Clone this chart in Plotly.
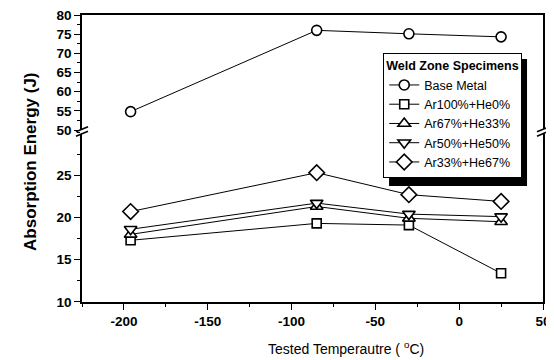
import plotly.graph_objects as go

# ---- data ----
temps = [-196, -85, -30, 25]
base_metal = [54.8, 76.0, 75.1, 74.3]
ar100_he0 = [17.3, 19.3, 19.1, 13.4]
ar67_he33 = [18.0, 21.3, 19.9, 19.5]
ar50_he50 = [18.6, 21.7, 20.4, 20.1]
ar33_he67 = [20.7, 25.3, 22.7, 21.9]

x_ticks = [-200, -150, -100, -50, 0, 50]
x_tick_text = ["<b>-200</b>", "<b>-150</b>", "<b>-100</b>", "<b>-50</b>", "<b>0</b>", "<b>50</b>"]
y_low_ticks = [10, 15, 20, 25]
y_high_ticks = [50, 55, 60, 65, 70, 75, 80]

FONT = "Liberation Sans, Arial, sans-serif"

fig = go.Figure()

def mk(sym, size):
    return dict(symbol=sym, size=size, color="white", line=dict(color="black", width=1.6))

fig.add_trace(go.Scatter(x=temps, y=base_metal, name="Base Metal", mode="lines+markers",
                         xaxis="x2", yaxis="y2",
                         line=dict(color="black", width=1), marker=mk("circle", 10)))
fig.add_trace(go.Scatter(x=temps, y=ar100_he0, name="Ar100%+He0%", mode="lines+markers",
                         line=dict(color="black", width=1), marker=mk("square", 9)))
fig.add_trace(go.Scatter(x=temps, y=ar67_he33, name="Ar67%+He33%", mode="lines+markers",
                         line=dict(color="black", width=1), marker=mk("triangle-up", 11)))
fig.add_trace(go.Scatter(x=temps, y=ar50_he50, name="Ar50%+He50%", mode="lines+markers",
                         line=dict(color="black", width=1), marker=mk("triangle-down", 11)))
fig.add_trace(go.Scatter(x=temps, y=ar33_he67, name="Ar33%+He67%", mode="lines+markers",
                         line=dict(color="black", width=1), marker=mk("diamond", 12)))

axis_common = dict(showgrid=False, zeroline=False, showline=True, linecolor="black", linewidth=1.5,
                   ticks="outside", ticklen=6, tickwidth=1.3, tickcolor="black",
                   ticklabeloverflow="allow", automargin=False,
                   tickfont=dict(family=FONT, size=13.5, color="black"))

low_dom = [0.0, 0.589]
high_dom = [0.599, 1.0]

LEG_X, LEG_Y = 0.653, 0.868

fig.update_layout(
    width=554, height=360,
    margin=dict(l=74, r=19, t=7, b=66, autoexpand=False),
    paper_bgcolor="white", plot_bgcolor="white",
    showlegend=True,
    xaxis=dict(range=[-225, 50], tickvals=x_ticks, ticktext=x_tick_text, anchor="y",
               minor=dict(dtick=25, tick0=-225, ticks="outside", ticklen=3, tickcolor="black"),
               **axis_common),
    xaxis2=dict(range=[-225, 50], matches="x", anchor="y2", side="top", showgrid=False, zeroline=False,
                automargin=False,
                showline=True, linecolor="black", linewidth=1.5, ticks="", showticklabels=False),
    yaxis=dict(range=[10, 30], domain=low_dom, tickvals=y_low_ticks,
               ticktext=[f"<b>{v}</b>" for v in y_low_ticks], anchor="x", mirror=True,
               minor=dict(dtick=2.5, ticks="outside", ticklen=3, tickcolor="black"),
               **axis_common),
    yaxis2=dict(range=[50, 80], domain=high_dom, tickvals=y_high_ticks,
                ticktext=[f"<b>{v}</b>" for v in y_high_ticks], anchor="x2", mirror=True,
                minor=dict(dtick=2.5, ticks="outside", ticklen=3, tickcolor="black"),
                **axis_common),
    legend=dict(x=LEG_X, y=LEG_Y, xanchor="left", yanchor="top",
                bgcolor="white", bordercolor="black", borderwidth=1.2,
                font=dict(family=FONT, size=12.5, color="black"),
                title=dict(text="<b>Weld Zone Specimens</b>", font=dict(family=FONT, size=12.5, color="black")),
                tracegroupgap=0, itemwidth=30),
    annotations=[
        dict(text="<b>Absorption Energy (J)</b>", textangle=-90, x=-0.113, y=0.491, xref="paper", yref="paper",
             xanchor="center", yanchor="middle",
             showarrow=False, font=dict(family=FONT, size=17, color="black")),
        dict(text="Tested Temperautre ( <sup>o</sup>C)", x=0.572, y=-0.16, xref="paper", yref="paper",
             xanchor="center", yanchor="middle",
             showarrow=False, font=dict(family=FONT, size=14, color="black")),
    ],
)

# axis-break marks and legend shadow (decorations)
shapes = []
px_x = 1 / 461.0
px_y = 1 / 287.0
ymid = (low_dom[1] + high_dom[0]) / 2
for xb in (0.0, 1.0):
    shapes.append(dict(type="rect", xref="paper", yref="paper",
                       x0=xb - 2 * px_x, x1=xb + 2 * px_x, y0=ymid - 2.5 * px_y, y1=ymid + 2.5 * px_y,
                       fillcolor="white", line=dict(width=0), layer="above"))
    for off in (-2.2, 2.2):
        shapes.append(dict(type="line", xref="paper", yref="paper",
                           x0=xb - 6 * px_x, y0=ymid + (off - 2.5) * px_y,
                           x1=xb + 6 * px_x, y1=ymid + (off + 2.5) * px_y,
                           line=dict(color="black", width=1.6), layer="above"))
# legend shadow
LEG_W, LEG_H = 138, 127
SH = 6
shapes.append(dict(type="rect", xref="paper", yref="paper",
                   x0=LEG_X + SH * px_x, x1=LEG_X + (LEG_W + SH) * px_x,
                   y0=LEG_Y - (LEG_H + SH) * px_y, y1=LEG_Y - SH * px_y,
                   fillcolor="black", line=dict(width=0), layer="above"))
fig.update_layout(shapes=shapes)

fig.write_html("out.html")
